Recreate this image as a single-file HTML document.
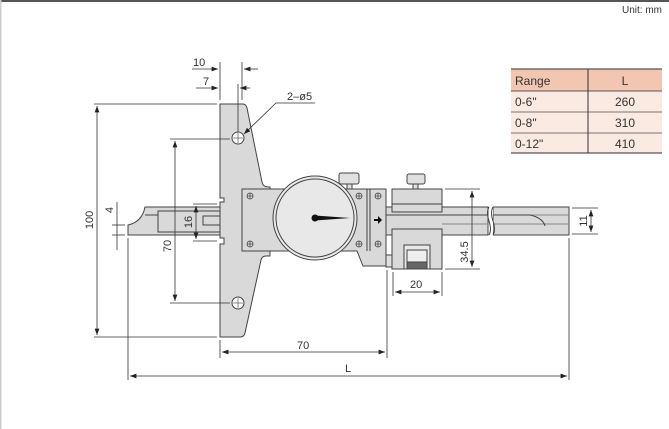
<!DOCTYPE html>
<html><head><meta charset="utf-8"><style>
html,body{margin:0;padding:0;background:#fff;}
svg{display:block;font-family:"Liberation Sans",sans-serif;}
</style></head><body>
<svg width="669" height="429" viewBox="0 0 669 429" xmlns="http://www.w3.org/2000/svg">
<defs>
<marker id="a" viewBox="0 0 8 6" refX="8" refY="3" markerWidth="8" markerHeight="6" orient="auto-start-reverse"><path d="M0,0 L8,3 L0,6 z" fill="#222"/></marker>
</defs>
<rect x="0" y="0" width="669" height="2" fill="#555"/>
<rect x="0" y="0" width="1.5" height="429" fill="#ccc"/>
<text x="662" y="13" font-size="10" fill="#333" text-anchor="end">Unit: mm</text>

<g font-size="12" fill="#333">
<rect x="511" y="69" width="151" height="22" fill="#f3c6b2"/>
<rect x="511" y="91" width="151" height="62" fill="#fbeae2"/>
<line x1="511" y1="69" x2="662" y2="69" stroke="#555" stroke-width="1.2"/>
<line x1="511" y1="91" x2="662" y2="91" stroke="#555"/>
<line x1="511" y1="112" x2="662" y2="112" stroke="#777"/>
<line x1="511" y1="133" x2="662" y2="133" stroke="#777"/>
<line x1="511" y1="153" x2="662" y2="153" stroke="#555" stroke-width="1.2"/>
<line x1="588" y1="69" x2="588" y2="153" stroke="#333"/>
<text x="515" y="85">Range</text><text x="625" y="85" text-anchor="middle">L</text>
<text x="515" y="106">0-6"</text><text x="625" y="106" text-anchor="middle">260</text>
<text x="515" y="127">0-8"</text><text x="625" y="127" text-anchor="middle">310</text>
<text x="515" y="148">0-12"</text><text x="625" y="148" text-anchor="middle">410</text>
</g>

<g stroke="#444" stroke-width="1" fill="#d9d9d9">
<path d="M145,207 L488,207 L488,235 L128,235 L128,225 Q142,222 145,207 z"/>
<path d="M493,207 L569,207 L569,235 L493,235 z"/>
<line x1="145" y1="215" x2="488" y2="215"/>
<line x1="442" y1="224" x2="488" y2="224" stroke="#888"/>
<line x1="493" y1="215" x2="569" y2="215" stroke="#888"/>
<line x1="493" y1="224" x2="569" y2="224" stroke="#888"/>
<path d="M493,215 L530,215 Q543,218 545,226" fill="none"/>
<rect x="158" y="211" width="70" height="21" fill="#d9d9d9"/>
<rect x="203" y="216" width="40" height="9" fill="#d9d9d9"/>
<path d="M220,104 L243,104 Q246,104 247,108 L262,182 Q263,187 268,187 L270,187 L270,256 L266,256 Q262,256 261,260 L245,333 Q244,337 240,337 L220,337 L220,244 L224,244 L224,238 L220,238 L220,202 L224,202 L224,198 L220,198 z"/>
<circle cx="238" cy="138" r="6" fill="#fff"/>
<circle cx="238" cy="303" r="6" fill="#fff"/>
<path d="M242,189 L386,189 L386,266 L363,266 L357,251 L242,251 z"/>
<line x1="367" y1="189" x2="367" y2="251"/>
<line x1="370" y1="189" x2="370" y2="251"/>
<circle cx="315" cy="218" r="42" fill="#e8e8e8"/>
<circle cx="315" cy="218" r="39" fill="#e8e8e8"/>
<rect x="339" y="173" width="20" height="11" rx="2" fill="#e0e0e0"/>
<rect x="347" y="184" width="5" height="5" fill="#e0e0e0"/>
<rect x="386" y="255" width="6" height="12" fill="#e0e0e0"/>
<rect x="392" y="189" width="50" height="23"/>
<line x1="392" y1="204" x2="442" y2="204"/>
<rect x="392" y="229" width="50" height="40"/>
<rect x="404" y="245" width="26" height="24" fill="#e8e8e8"/>
<rect x="407" y="250" width="20" height="12" fill="#eee"/>
<rect x="407" y="262" width="20" height="7" fill="#666"/>
<rect x="407" y="174" width="18" height="10" rx="2" fill="#e0e0e0"/>
<rect x="413" y="184" width="5" height="5" fill="#e0e0e0"/>
</g>
<rect x="489" y="205" width="4" height="32" fill="#fff"/>
<path d="M489,207 Q486,212 489,221 Q492,230 489,235 M493,207 Q490,212 493,221 Q496,230 493,235" stroke="#444" fill="none"/>
<g stroke="#444" fill="#e0e0e0" stroke-width="0.8">
<circle cx="250" cy="196" r="3"/><circle cx="250" cy="244" r="3"/>
<circle cx="359" cy="196" r="3"/><circle cx="359" cy="244" r="3"/>
<circle cx="378" cy="196" r="3"/><circle cx="378" cy="244" r="3"/>
<path d="M247,196h6M250,193v6M247,244h6M250,241v6M356,196h6M359,193v6M356,244h6M359,241v6M375,196h6M378,193v6M375,244h6M378,241v6"/>
<path d="M233,138h10M238,133v10M233,303h10M238,298v10" stroke="#666"/>
</g>
<circle cx="315" cy="218" r="3.5" fill="#111"/>
<path d="M315,215.5 L350,218 L315,220.5 z" fill="#111"/>
<path d="M374,219 L378,219 L378,216 L382,220 L378,224 L378,221 L374,221 z" fill="#111"/>

<g stroke="#333" stroke-width="0.8" fill="none">
<line x1="220" y1="62" x2="220" y2="100"/><line x1="242" y1="62" x2="242" y2="100"/>
<line x1="238" y1="84" x2="238" y2="132"/>
<line x1="192" y1="69" x2="218" y2="69" marker-end="url(#a)"/><line x1="258" y1="69" x2="244" y2="69" marker-end="url(#a)"/>
<line x1="196" y1="88" x2="218" y2="88" marker-end="url(#a)"/><line x1="250" y1="88" x2="240" y2="88" marker-end="url(#a)"/>
<path d="M315,103 L276,103 L244,134" marker-end="url(#a)"/>
<line x1="94" y1="104" x2="217" y2="104"/><line x1="94" y1="337" x2="217" y2="337"/>
<line x1="97" y1="106" x2="97" y2="335" marker-start="url(#a)" marker-end="url(#a)"/>
<line x1="170" y1="139" x2="230" y2="139"/><line x1="170" y1="303" x2="230" y2="303"/>
<line x1="175" y1="141" x2="175" y2="301" marker-start="url(#a)" marker-end="url(#a)"/>
<line x1="193" y1="204" x2="217" y2="204"/><line x1="193" y1="241" x2="217" y2="241"/>
<line x1="196" y1="206" x2="196" y2="239" marker-start="url(#a)" marker-end="url(#a)"/>
<line x1="117" y1="202" x2="117" y2="250"/>
<line x1="112" y1="225" x2="125" y2="225"/><line x1="112" y1="235" x2="125" y2="235"/>
<line x1="128" y1="238" x2="128" y2="380"/>
<line x1="220" y1="340" x2="220" y2="358"/><line x1="387" y1="270" x2="387" y2="358"/>
<line x1="222" y1="352" x2="385" y2="352" marker-start="url(#a)" marker-end="url(#a)"/>
<line x1="569" y1="238" x2="569" y2="380"/>
<line x1="130" y1="376" x2="567" y2="376" marker-start="url(#a)" marker-end="url(#a)"/>
<line x1="393" y1="272" x2="393" y2="296"/><line x1="442" y1="272" x2="442" y2="296"/>
<line x1="395" y1="292" x2="440" y2="292" marker-start="url(#a)" marker-end="url(#a)"/>
<line x1="445" y1="189" x2="480" y2="189"/><line x1="445" y1="269" x2="480" y2="269"/>
<line x1="472" y1="191" x2="472" y2="267" marker-start="url(#a)" marker-end="url(#a)"/>
<line x1="572" y1="208" x2="598" y2="208"/><line x1="572" y1="234" x2="598" y2="234"/>
<line x1="591" y1="210" x2="591" y2="232" marker-start="url(#a)" marker-end="url(#a)"/>
</g>
<g font-size="11" fill="#333">
<text x="193" y="66">10</text>
<text x="203" y="85">7</text>
<text x="287" y="100">2–ø5</text>
<text x="297" y="349">70</text>
<text x="345" y="372">L</text>
<text x="410" y="288">20</text>
<text transform="translate(93,220) rotate(-90)" text-anchor="middle">100</text>
<text transform="translate(171,246) rotate(-90)" text-anchor="middle">70</text>
<text transform="translate(192,222) rotate(-90)" text-anchor="middle">16</text>
<text transform="translate(113,210) rotate(-90)" text-anchor="middle">4</text>
<text transform="translate(468,252) rotate(-90)" text-anchor="middle">34.5</text>
<text transform="translate(587,221) rotate(-90)" text-anchor="middle">11</text>
</g>
</svg>
</body></html>
